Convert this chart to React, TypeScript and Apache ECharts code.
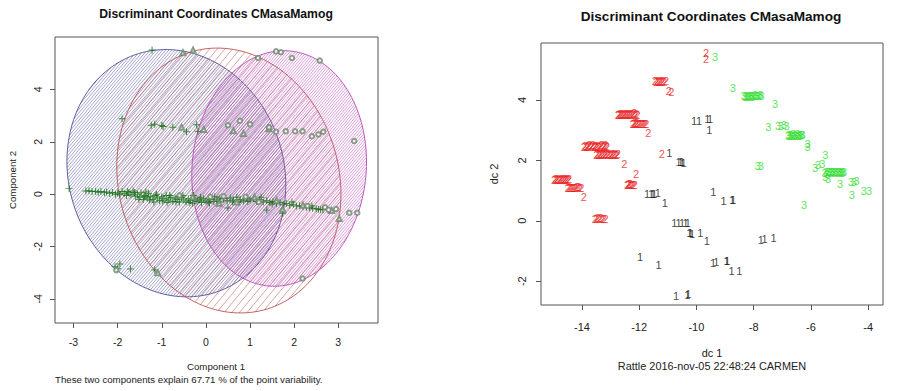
import React, { useEffect, useRef } from 'react';
import * as echarts from 'echarts';

const FONT = '"Liberation Sans", Arial, sans-serif';

const titleText = 'Discriminant Coordinates CMasaMamog';
const leftXName = 'Component 1';
const leftYName = 'Component 2';
const leftSubtitle = 'These two components explain 67.71 % of the point variability.';
const rightXName = 'dc 1';
const rightYName = 'dc 2';
const rightSubtitle = 'Rattle 2016-nov-05 22:48:24 CARMEN';

const leftXTicks = [-3, -2, -1, 0, 1, 2, 3];
const leftYTicks = [-4, -2, 0, 2, 4];
const rightXTicks = [-14, -12, -10, -8, -6, -4];
const rightYTicks = [-2, 0, 2, 4];

// Cluster ellipses (clusplot): centre, x semi-extent, y offset at x-extreme, conjugate height
const ellipseCx = [-0.67, 0.52, 1.66];
const ellipseCy = [0.8, 0.52, 0.98];
const ellipseUx = [2.48, 2.54, 1.98];
const ellipseUy = [-0.45, -0.52, 0.25];
const ellipseH = [4.7, 5.03, 4.49];

// Left panel points (Component 1, Component 2)
const cluster1Points = [
  [-3.1, 0.22], [-1.22, 5.5], [-1.9, 2.88], [-1.24, 2.63], [-1.16, 2.67], [-1.0, 2.62], [-0.97, 2.58],
  [-0.75, 2.55], [-0.44, 2.38], [-0.21, 2.65], [-0.18, 2.4], [-2.06, -2.77], [-1.95, -2.67], [-1.71, -2.86],
  [-1.16, -2.9], [-2.0, -2.85],
  [-2.72, 0.12], [-2.65, 0.13], [-2.58, 0.1], [-2.5, 0.11], [-2.44, 0.07], [-2.38, 0.1], [-2.3, 0.05],
  [-2.25, 0.08], [-2.18, 0.02], [-2.12, 0.06], [-2.05, 0.0], [-2.0, 0.04], [-1.95, -0.02], [-1.9, 0.1],
  [-1.85, 0.02], [-1.8, -0.05], [-1.75, 0.05], [-1.7, -0.02], [-1.65, 0.12], [-1.6, -0.08], [-1.55, 0.0],
  [-1.5, -0.12], [-1.47, 0.05], [-1.42, -0.2], [-1.38, -0.05], [-1.33, -0.15], [-1.3, 0.02], [-1.25, -0.1],
  [-1.2, -0.2], [-1.15, -0.05], [-1.1, -0.15], [-1.05, -0.25], [-1.0, -0.1], [-0.95, -0.18], [-0.9, -0.05],
  [-0.85, -0.22], [-0.8, -0.12], [-0.75, -0.28], [-0.7, -0.15], [-0.65, -0.2], [-0.6, -0.3], [-0.55, -0.12],
  [-0.5, -0.22], [-0.45, -0.3], [-0.4, -0.18], [-0.35, -0.25], [-0.3, -0.35], [-0.25, -0.15], [-0.2, -0.28],
  [-0.15, -0.22], [-0.1, -0.32], [-0.05, -0.18], [0.0, -0.26], [0.05, -0.3], [0.1, -0.2], [0.18, -0.28],
  [0.25, -0.22], [0.32, -0.3], [0.4, -0.18], [0.48, -0.25], [0.55, -0.15], [0.62, -0.22], [0.7, -0.12],
  [0.78, -0.2], [0.85, -0.25], [0.92, -0.15], [1.0, -0.22], [1.08, -0.18], [1.15, -0.28], [1.22, -0.2],
  [1.3, -0.3], [1.38, -0.25], [1.45, -0.32], [1.52, -0.28], [1.6, -0.35], [1.68, -0.32], [1.75, -0.4],
  [1.82, -0.36], [1.9, -0.42], [1.98, -0.4], [2.05, -0.45], [2.12, -0.44], [2.2, -0.48], [2.28, -0.5],
  [2.35, -0.52], [2.42, -0.54], [2.5, -0.56], [2.55, -0.58], [2.6, -0.6], [2.65, -0.59],
  [-1.62, 0.06], [-1.4, -0.1], [-1.28, -0.22], [-1.12, 0.0], [-0.98, -0.26], [-0.82, -0.05], [-0.68, -0.3],
  [-0.52, -0.05], [-0.38, -0.32], [-0.12, -0.12], [0.08, -0.34], [0.3, -0.15], [0.6, -0.3], [0.95, -0.28],
  [-1.78, 0.1], [-1.52, -0.2], [-1.36, 0.08], [-1.18, -0.3], [-0.88, -0.32], [-0.62, -0.08], [-0.28, -0.05],
  [0.2, -0.1], [0.75, -0.3], [1.25, -0.12], [1.5, -0.38], [1.95, -0.3], [2.4, -0.45],
  [0.5, -0.53], [1.38, -0.61], [1.74, -0.73],
];
const cluster2Points = [
  [-0.52, 5.4], [-0.29, 5.5], [-0.55, 2.55], [-0.05, 2.47], [0.62, 2.42], [0.85, 2.32], [1.43, 2.5],
  [-1.09, -3.0], [3.02, -0.93], [1.74, -0.58], [-0.3, -0.1], [0.3, -0.35], [0.7, -0.3], [1.1, -0.12],
  [1.6, -0.25], [2.2, -0.42], [2.85, -0.62],
];
const cluster3Points = [
  [1.18, 5.2], [1.59, 5.45], [1.7, 5.42], [1.95, 5.2], [2.58, 5.1], [0.5, 2.63], [0.77, 2.8], [1.0, 2.67],
  [1.43, 2.55], [1.59, 2.38], [1.81, 2.4], [2.02, 2.4], [2.19, 2.4], [2.4, 2.21], [2.55, 2.28], [2.66, 2.38],
  [3.36, 2.03], [2.19, -3.22], [2.95, -0.57], [3.25, -0.71], [3.43, -0.71], [-2.03, -2.9], [0.4, -0.08],
  [0.9, -0.1], [1.2, -0.3], [2.3, -0.45], [2.7, -0.5], [2.78, -0.6], [0.1, -0.1], [-0.6, -0.05],
];

// Right panel points (dc 1, dc 2) labelled by class
const class1Points = [
  [-10.08, 3.29], [-9.91, 3.29], [-9.62, 3.37], [-9.52, 3.37], [-9.55, 3.01], [-10.95, 2.26],
  [-10.62, 1.94], [-10.55, 1.94], [-10.5, 1.95], [-10.45, 1.93],
  [-11.72, 0.9], [-11.58, 0.88], [-11.52, 0.9], [-11.47, 0.88], [-11.35, 0.92], [-11.1, 0.59],
  [-9.41, 0.97], [-9.05, 0.67], [-8.75, 0.7], [-8.71, 0.68],
  [-10.77, -0.08], [-10.62, -0.07], [-10.5, -0.08], [-10.38, -0.06], [-10.3, -0.08],
  [-10.25, -0.42], [-10.2, -0.41], [-10.15, -0.43], [-9.86, -0.39], [-9.64, -0.66],
  [-7.75, -0.62], [-7.62, -0.6], [-7.3, -0.57],
  [-11.97, -1.2], [-11.32, -1.46], [-9.42, -1.4], [-9.3, -1.38], [-8.95, -1.32], [-8.92, -1.33],
  [-8.77, -1.66], [-8.5, -1.66], [-10.71, -2.48], [-10.32, -2.45], [-10.28, -2.44],
];
const class2Points = [
  [-9.66, 5.57], [-9.66, 5.35],
  [-11.45, 4.62], [-11.41, 4.6], [-11.37, 4.63], [-11.33, 4.61], [-11.29, 4.6], [-11.25, 4.63],
  [-11.21, 4.61], [-11.17, 4.64], [-11.12, 4.6], [-11.06, 4.62],
  [-10.96, 4.31], [-10.88, 4.28],
  [-12.75, 3.52], [-12.72, 3.5], [-12.68, 3.53], [-12.65, 3.51], [-12.61, 3.54], [-12.58, 3.5],
  [-12.54, 3.52], [-12.51, 3.55], [-12.47, 3.51], [-12.44, 3.53], [-12.4, 3.5], [-12.37, 3.54],
  [-12.33, 3.52], [-12.3, 3.55], [-12.26, 3.51], [-12.22, 3.53], [-12.18, 3.56], [-12.14, 3.52],
  [-12.1, 3.55], [-12.06, 3.52],
  [-12.23, 3.22], [-12.19, 3.2], [-12.16, 3.23], [-12.12, 3.21], [-12.08, 3.24], [-12.04, 3.2],
  [-12.0, 3.22], [-11.96, 3.19], [-11.92, 3.22], [-11.88, 3.2], [-11.84, 3.21], [-11.79, 3.19],
  [-11.75, 3.2], [-11.68, 2.9],
  [-13.93, 2.45], [-13.89, 2.48], [-13.85, 2.46], [-13.81, 2.44], [-13.78, 2.47], [-13.74, 2.5],
  [-13.7, 2.46], [-13.66, 2.48], [-13.62, 2.5], [-13.58, 2.45], [-13.55, 2.47], [-13.51, 2.44],
  [-13.47, 2.48], [-13.43, 2.46], [-13.39, 2.44], [-13.35, 2.47], [-13.31, 2.5], [-13.27, 2.46],
  [-13.23, 2.48], [-13.19, 2.5], [-13.15, 2.47], [-13.12, 2.46],
  [-13.5, 2.18], [-13.46, 2.2], [-13.42, 2.17], [-13.38, 2.19], [-13.34, 2.2], [-13.3, 2.17],
  [-13.26, 2.21], [-13.22, 2.18], [-13.18, 2.2], [-13.14, 2.22], [-13.1, 2.18], [-13.06, 2.2],
  [-13.02, 2.17], [-12.98, 2.19], [-12.94, 2.21], [-12.9, 2.18], [-12.86, 2.2], [-12.82, 2.17],
  [-12.78, 2.19], [-12.75, 2.2],
  [-12.52, 1.89], [-12.11, 1.56], [-11.21, 2.22],
  [-14.97, 1.35], [-14.93, 1.37], [-14.9, 1.34], [-14.86, 1.38], [-14.82, 1.36], [-14.78, 1.35],
  [-14.75, 1.38], [-14.71, 1.36], [-14.67, 1.4], [-14.63, 1.35], [-14.6, 1.37], [-14.56, 1.36],
  [-14.52, 1.38], [-14.48, 1.35], [-14.45, 1.37],
  [-14.5, 1.08], [-14.46, 1.1], [-14.42, 1.07], [-14.38, 1.09], [-14.34, 1.1], [-14.3, 1.07],
  [-14.26, 1.1], [-14.22, 1.08], [-14.18, 1.11], [-14.12, 1.12], [-14.07, 1.08], [-14.02, 1.07],
  [-13.93, 0.8],
  [-12.42, 1.2], [-12.39, 1.18], [-12.36, 1.21], [-12.32, 1.22], [-12.28, 1.19], [-12.24, 1.2],
  [-12.2, 1.18], [-12.15, 1.17],
  [-13.55, 0.07], [-13.5, 0.05], [-13.45, 0.08], [-13.4, 0.06], [-13.35, 0.08], [-13.3, 0.05],
  [-13.24, 0.07], [-13.17, 0.05],
];
const class3Points = [
  [-9.35, 5.42], [-8.73, 4.4],
  [-8.35, 4.12], [-8.31, 4.1], [-8.27, 4.13], [-8.23, 4.1], [-8.19, 4.14], [-8.15, 4.11], [-8.11, 4.12],
  [-8.07, 4.15], [-8.03, 4.11], [-7.99, 4.14], [-7.95, 4.16], [-7.91, 4.12], [-7.87, 4.15], [-7.82, 4.13],
  [-7.77, 4.16], [-7.72, 4.15],
  [-7.25, 3.86], [-7.49, 3.1], [-7.15, 3.15], [-7.05, 3.14], [-6.95, 3.16], [-6.85, 3.15],
  [-6.8, 2.82], [-6.77, 2.85], [-6.73, 2.8], [-6.7, 2.84], [-6.66, 2.82], [-6.62, 2.86], [-6.59, 2.81],
  [-6.55, 2.84], [-6.51, 2.82], [-6.47, 2.86], [-6.44, 2.8], [-6.4, 2.84], [-6.36, 2.82], [-6.32, 2.85],
  [-6.29, 2.83],
  [-6.12, 2.55], [-6.12, 2.44],
  [-7.85, 1.8], [-7.75, 1.8],
  [-5.5, 2.19], [-5.75, 1.85], [-5.6, 1.87], [-5.85, 1.74],
  [-5.52, 1.58], [-5.48, 1.6], [-5.44, 1.56], [-5.4, 1.6], [-5.36, 1.62], [-5.32, 1.58], [-5.28, 1.6],
  [-5.24, 1.63], [-5.2, 1.58], [-5.16, 1.6], [-5.12, 1.62], [-5.08, 1.58], [-5.04, 1.6], [-5.0, 1.62],
  [-4.96, 1.59], [-4.92, 1.61], [-4.88, 1.58], [-4.84, 1.6],
  [-5.5, 1.45], [-5.4, 1.38],
  [-4.98, 1.22], [-4.6, 1.3], [-4.5, 1.3], [-4.4, 1.32], [-4.57, 0.86], [-4.15, 1.0], [-3.97, 1.0],
  [-6.24, 0.51],
];

const ellipseColors = ['#4f4f9c', '#bb5250', '#b848b8'];
const hatchStep = [3.1, 7.6, 2.8];
const plusSymbol = 'path://M0.43,0 H0.57 V0.43 H1 V0.57 H0.57 V1 H0.43 V0.57 H0 V0.43 H0.43 Z';

function ellipseRender(params: any, api: any) {
  const i = params.dataIndex;
  const cx = api.value(0), cy = api.value(1), ux = api.value(2), uy = api.value(3), h = api.value(4);
  const color = ellipseColors[i];
  const pts: number[][] = [];
  const N = 160;
  for (let k = 0; k < N; k++) {
    const t = (k / N) * Math.PI * 2;
    pts.push(api.coord([cx + ux * Math.cos(t), cy + uy * Math.cos(t) + h * Math.sin(t)]));
  }
  const phi = (50 * Math.PI) / 180;
  const nx = Math.sin(phi), ny = Math.cos(phi);
  const dx = Math.cos(phi), dy = -Math.sin(phi);
  let kmin = Infinity, kmax = -Infinity;
  pts.forEach((p) => {
    const v = nx * p[0] + ny * p[1];
    kmin = Math.min(kmin, v);
    kmax = Math.max(kmax, v);
  });
  const s = hatchStep[i] * Math.sin(phi);
  const children: any[] = [];
  for (let k = Math.ceil(kmin / s) * s; k < kmax; k += s) {
    const hits: number[][] = [];
    for (let j = 0; j < N; j++) {
      const p1 = pts[j], p2 = pts[(j + 1) % N];
      const f1 = nx * p1[0] + ny * p1[1] - k;
      const f2 = nx * p2[0] + ny * p2[1] - k;
      if ((f1 < 0) !== (f2 < 0)) {
        const tt = f1 / (f1 - f2);
        hits.push([p1[0] + (p2[0] - p1[0]) * tt, p1[1] + (p2[1] - p1[1]) * tt]);
      }
    }
    hits.sort((a, b) => dx * a[0] + dy * a[1] - (dx * b[0] + dy * b[1]));
    for (let j = 0; j + 1 < hits.length; j += 2) {
      children.push({
        type: 'line',
        shape: { x1: hits[j][0], y1: hits[j][1], x2: hits[j + 1][0], y2: hits[j + 1][1] },
        style: { stroke: color, lineWidth: 0.65, opacity: 0.8 },
        silent: true,
      });
    }
  }
  children.push({
    type: 'polygon',
    shape: { points: pts },
    style: { fill: 'none', stroke: color, lineWidth: 1, opacity: 0.9 },
    silent: true,
  });
  return { type: 'group', children };
}

function makeAxis(gridIndex: number, min: number, max: number, ticks: number[], fontSize: number, margin: number, rotate: number) {
  return {
    type: 'value',
    gridIndex,
    min,
    max,
    axisLine: { show: false, onZero: false },
    axisTick: { show: true, length: 5, lineStyle: { color: '#555', width: 1 }, customValues: ticks },
    axisLabel: { color: '#222', fontSize, fontFamily: FONT, margin, rotate, customValues: ticks },
    splitLine: { show: false },
  };
}

function labelSeries(points: number[][], label: string, color: string) {
  return {
    type: 'scatter',
    xAxisIndex: 1,
    yAxisIndex: 1,
    data: points,
    symbol: 'circle',
    symbolSize: 1,
    itemStyle: { color: 'rgba(0,0,0,0)' },
    label: {
      show: true,
      position: 'inside',
      formatter: label,
      color,
      fontSize: 11,
      fontFamily: FONT,
    },
    z: 5,
  };
}

export default function App() {
  const ref = useRef<HTMLDivElement>(null);
  useEffect(() => {
    const chart = echarts.init(ref.current!, null, { renderer: 'svg' });
    const ellipseData = ellipseCx.map((_, i) => [ellipseCx[i], ellipseCy[i], ellipseUx[i], ellipseUy[i], ellipseH[i]]);
    const option: any = {
      animation: false,
      backgroundColor: '#ffffff',
      grid: [
        { left: 55, top: 37, width: 323, height: 286, show: true, borderColor: '#555', borderWidth: 1, backgroundColor: 'transparent', outerBoundsMode: 'none' },
        { left: 541, top: 43, width: 342, height: 262, show: true, borderColor: '#555', borderWidth: 1, backgroundColor: 'transparent', outerBoundsMode: 'none' },
      ],
      xAxis: [
        makeAxis(0, -3.42, 3.9, leftXTicks, 10.5, 13, 0),
        makeAxis(1, -15.43, -3.48, rightXTicks, 11, 16, 0),
      ],
      yAxis: [
        makeAxis(0, -4.92, 6.0, leftYTicks, 10.5, 12, 90),
        makeAxis(1, -2.79, 5.89, rightYTicks, 11, 14, 90),
      ],
      graphic: [
        { type: 'text', x: 216, y: 14, style: { text: titleText, font: `bold 12.2px ${FONT}`, fill: '#111', align: 'center', verticalAlign: 'middle' } },
        { type: 'text', x: 711, y: 16, style: { text: titleText, font: `bold 13.6px ${FONT}`, fill: '#111', align: 'center', verticalAlign: 'middle' } },
        { type: 'text', x: 216, y: 366, style: { text: leftXName, font: `9.7px ${FONT}`, fill: '#222', align: 'center', verticalAlign: 'middle' } },
        { type: 'text', x: 55, y: 379, style: { text: leftSubtitle, font: `9.7px ${FONT}`, fill: '#222', align: 'left', verticalAlign: 'middle' } },
        { type: 'text', x: 12, y: 180, rotation: Math.PI / 2, style: { text: leftYName, font: `9.7px ${FONT}`, fill: '#222', align: 'center', verticalAlign: 'middle' } },
        { type: 'text', x: 712, y: 353, style: { text: rightXName, font: `10.9px ${FONT}`, fill: '#222', align: 'center', verticalAlign: 'middle' } },
        { type: 'text', x: 712, y: 366, style: { text: rightSubtitle, font: `10.9px ${FONT}`, fill: '#222', align: 'center', verticalAlign: 'middle' } },
        { type: 'text', x: 494, y: 174, rotation: Math.PI / 2, style: { text: rightYName, font: `10.9px ${FONT}`, fill: '#222', align: 'center', verticalAlign: 'middle' } },
      ],
      series: [
        {
          type: 'custom',
          xAxisIndex: 0,
          yAxisIndex: 0,
          data: ellipseData,
          encode: { x: 0, y: 1 },
          renderItem: ellipseRender,
          z: 1,
          silent: true,
        },
        {
          type: 'scatter', xAxisIndex: 0, yAxisIndex: 0, data: cluster1Points,
          symbol: plusSymbol, symbolSize: 7, itemStyle: { color: '#126e12' }, z: 4,
        },
        {
          type: 'scatter', xAxisIndex: 0, yAxisIndex: 0, data: cluster2Points,
          symbol: 'emptyTriangle', symbolSize: 5, itemStyle: { color: '#6a876a', borderWidth: 0.7 }, z: 4,
        },
        {
          type: 'scatter', xAxisIndex: 0, yAxisIndex: 0, data: cluster3Points,
          symbol: 'emptyCircle', symbolSize: 4.5, itemStyle: { color: '#6f866f', borderWidth: 0.7 }, z: 4,
        },
        labelSeries(class1Points, '1', '#111111'),
        labelSeries(class2Points, '2', '#e82222'),
        labelSeries(class3Points, '3', '#33dd33'),
      ],
    };
    chart.setOption(option);
    return () => chart.dispose();
  }, []);
  return (
    <div
      ref={ref}
      style={{ position: 'fixed', left: 0, top: 0, width: 902, height: 391, background: '#fff' }}
    />
  );
}
